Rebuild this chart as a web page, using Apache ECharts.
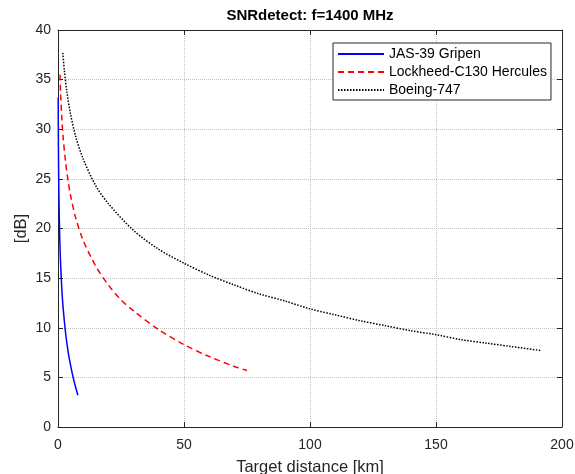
<!DOCTYPE html>
<html><head><meta charset="utf-8">
<script src="https://cdn.jsdelivr.net/npm/echarts@6/dist/echarts.min.js"></script>
<style>html,body{margin:0;padding:0;background:#fff}#c{width:575px;height:474px}</style>
</head><body><div id="c"></div>
<script>
// Data
const seriesNames = ['JAS-39 Gripen', 'Lockheed-C130 Hercules', 'Boeing-747'];

const gripenX = [0.08, 0.1, 0.15, 0.2, 0.3, 0.4, 0.6, 0.8, 1.0, 1.5, 2, 3, 4, 5, 6, 7, 7.9];
const gripenY = [33.2, 31.6, 29.0, 27.1, 24.5, 22.6, 20.0, 18.1, 16.6, 14.0, 12.1, 9.5, 7.6, 6.2, 5.0, 4.0, 3.2];

const herculesX = [0.8, 1.0, 1.5, 2, 3, 4, 5, 7, 10, 15, 20, 25, 30, 40, 50, 60, 70, 75];
const herculesY = [35.5, 33.8, 31.2, 29.3, 26.7, 24.8, 23.3, 21.1, 18.8, 16.2, 14.3, 12.8, 11.7, 9.8, 8.3, 7.1, 6.1, 5.7];

const boeingX = [1.9, 2.5, 3.5, 5, 7, 10, 15, 20, 30, 40, 50, 60, 70, 80, 90, 100, 110, 120, 130, 140, 150, 160, 170, 180, 191.7];
const boeingY = [37.7, 36.0, 33.8, 31.5, 29.3, 27.0, 24.3, 22.5, 19.8, 17.9, 16.5, 15.3, 14.3, 13.4, 12.7, 11.9, 11.3, 10.7, 10.2, 9.7, 9.3, 8.8, 8.45, 8.1, 7.7];

const xTicks = [0, 50, 100, 150, 200];
const yTicks = [0, 5, 10, 15, 20, 25, 30, 35, 40];

const zip = (xs, ys) => xs.map((x, i) => [x, ys[i]]);
const FONT = '"Liberation Sans", Arial, Helvetica, sans-serif';
const AX = '#262626';
const GRID = '#c2c2c2';

const chart = echarts.init(document.getElementById('c'), null, {renderer: 'canvas'});

const baseX = {
  type: 'value', min: xTicks[0], max: xTicks[xTicks.length - 1], interval: xTicks[1] - xTicks[0]
};
const baseY = {
  type: 'value', min: yTicks[0], max: yTicks[yTicks.length - 1], interval: yTicks[1] - yTicks[0]
};

chart.setOption({
  animation: false,
  backgroundColor: '#fff',
  title: {
    text: 'SNRdetect: f=1400 MHz',
    left: 310, top: 8, textAlign: 'center', padding: 0,
    textStyle: {fontFamily: FONT, fontSize: 15, fontWeight: 'bold', color: '#000'}
  },
  grid: {left: 58, right: 13, top: 30, bottom: 47, show: false, containLabel: false, outerBoundsMode: 'none'},
  legend: {
    orient: 'vertical', left: 333, top: 43,
    data: seriesNames,
    itemWidth: 46, itemHeight: 14, itemGap: 4,
    padding: [4, 4, 3, 4],
    borderColor: AX, borderWidth: 1, backgroundColor: '#fff',
    itemStyle: {color: 'rgba(0,0,0,0)', borderWidth: 0, opacity: 0},
    textStyle: {fontFamily: FONT, fontSize: 14, color: '#000'}
  },
  xAxis: [
    Object.assign({}, baseX, {
      position: 'bottom',
      name: 'Target distance [km]', nameLocation: 'middle', nameGap: 32, nameMoveOverlap: false,
      nameTextStyle: {fontFamily: FONT, fontSize: 16.5, color: AX},
      axisLine: {show: true, lineStyle: {color: AX, width: 1}},
      axisTick: {show: true, inside: true, length: 5, lineStyle: {color: AX}},
      axisLabel: {margin: 11, fontFamily: FONT, fontSize: 14, color: AX},
      splitLine: {show: true, lineStyle: {color: GRID, type: [1, 1], width: 1}}
    }),
    Object.assign({}, baseX, {
      position: 'top',
      axisLine: {show: true, onZero: false, lineStyle: {color: AX, width: 1}},
      axisTick: {show: true, inside: true, length: 5, lineStyle: {color: AX}},
      axisLabel: {show: false},
      splitLine: {show: false}
    })
  ],
  yAxis: [
    Object.assign({}, baseY, {
      position: 'left',
      name: '[dB]', nameLocation: 'middle', nameGap: 28, nameRotate: 90, nameMoveOverlap: false,
      nameTextStyle: {fontFamily: FONT, fontSize: 16.5, color: AX},
      axisLine: {show: true, onZero: false, lineStyle: {color: AX, width: 1}},
      axisTick: {show: true, inside: true, length: 5, lineStyle: {color: AX}},
      axisLabel: {margin: 7, fontFamily: FONT, fontSize: 14, color: AX},
      splitLine: {show: true, lineStyle: {color: GRID, type: [1, 1], width: 1}}
    }),
    Object.assign({}, baseY, {
      position: 'right',
      axisLine: {show: true, onZero: false, lineStyle: {color: AX, width: 1}},
      axisTick: {show: true, inside: true, length: 5, lineStyle: {color: AX}},
      axisLabel: {show: false},
      splitLine: {show: false}
    })
  ],
  series: [
    {
      name: seriesNames[0], type: 'line', data: zip(gripenX, gripenY),
      symbol: 'none', smooth: 0.3,
      lineStyle: {color: '#0000ff', width: 1.5, type: 'solid'},
      itemStyle: {color: '#0000ff'}
    },
    {
      name: seriesNames[1], type: 'line', data: zip(herculesX, herculesY),
      symbol: 'none', smooth: 0.3,
      lineStyle: {color: '#ff0000', width: 1.5, type: [6, 4]},
      itemStyle: {color: '#ff0000'}
    },
    {
      name: seriesNames[2], type: 'line', data: zip(boeingX, boeingY),
      symbol: 'none', smooth: 0.3,
      lineStyle: {color: '#000000', width: 1.5, type: [1.5, 1.5]},
      itemStyle: {color: '#000000'}
    }
  ]
});
</script>
</body></html>
